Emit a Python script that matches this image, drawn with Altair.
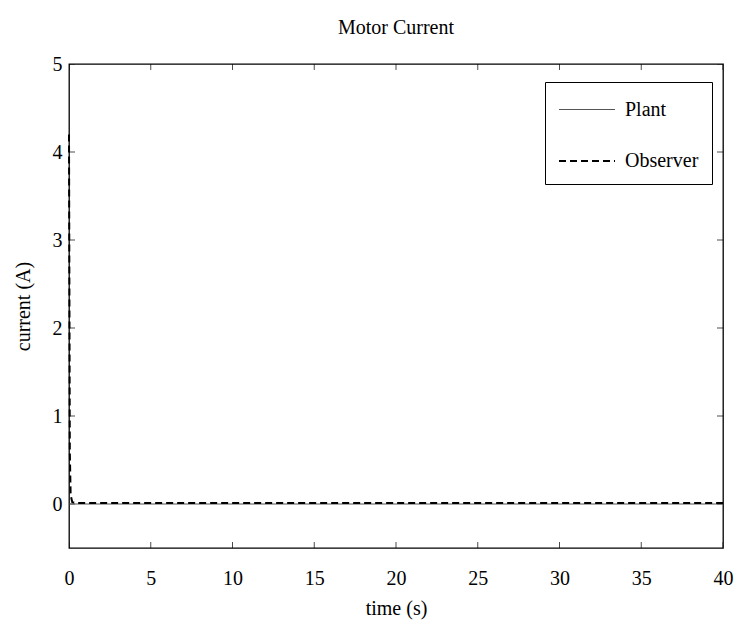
import altair as alt
import pandas as pd

# Simulated motor current: plant vs. observer estimate
time_s = [0.0, 0.05, 0.1, 0.2, 0.5, 40.0]
plant_current = [0.0, 0.0, 0.0, 0.0, 0.0, 0.0]
observer_current = [4.2, 0.6, 0.1, 0.02, 0.01, 0.01]

x_ticks = [0, 5, 10, 15, 20, 25, 30, 35, 40]
y_ticks = [0, 1, 2, 3, 4, 5]
x_domain = [0, 40]
y_domain = [-0.5, 5]

series_names = ["Plant", "Observer"]
series_colors = ["#555555", "#000000"]
series_dashes = [[1, 0], [7, 4]]
series_widths = [1, 2]

FONT = "Liberation Serif"

rows = []
for t, p, o in zip(time_s, plant_current, observer_current):
    rows.append({"t": t, "current": p, "series": "Plant"})
    rows.append({"t": t, "current": o, "series": "Observer"})
df = pd.DataFrame(rows)

x_scale = alt.Scale(domain=x_domain, nice=False, zero=False)
y_scale = alt.Scale(domain=y_domain, nice=False, zero=False)

x_axis = alt.Axis(values=x_ticks, format="d", title="time (s)", grid=False, ticks=False,
                  domain=False, tickSize=0, labelPadding=20, titlePadding=10,
                  labelFont=FONT, labelFontSize=20, labelColor="black",
                  titleFont=FONT, titleFontSize=20, titleFontWeight="normal",
                  titleColor="black", labelFlush=False)
y_axis = alt.Axis(values=y_ticks, format="d", title="current (A)", grid=False, ticks=False,
                  domain=False, tickSize=0, labelPadding=7, titlePadding=19,
                  labelFont=FONT, labelFontSize=20, labelColor="black",
                  titleFont=FONT, titleFontSize=20, titleFontWeight="normal",
                  titleColor="black", labelFlush=False)

# Line-segment legend symbol (custom path spans -2..2, so length = 2*sqrt(size))
legend = alt.Legend(title=None, orient="none", legendX=476, legendY=18,
                    strokeColor="black", fillColor="white", padding=13,
                    symbolType="M-2,0H2", symbolSize=784, symbolStrokeWidth=2,
                    symbolOffset=14, labelOffset=23, rowPadding=26,
                    labelFont=FONT, labelFontSize=20, labelColor="black")

enc = dict(
    x=alt.X("t:Q", scale=x_scale, axis=x_axis),
    y=alt.Y("current:Q", scale=y_scale, axis=y_axis),
    color=alt.Color("series:N", scale=alt.Scale(domain=series_names, range=series_colors), legend=legend),
    strokeDash=alt.StrokeDash("series:N", scale=alt.Scale(domain=series_names, range=series_dashes), legend=legend),
    strokeWidth=alt.StrokeWidth("series:N", scale=alt.Scale(domain=series_names, range=series_widths), legend=legend),
)

plant_line = alt.Chart(df).transform_filter(alt.datum.series == "Plant").mark_line().encode(**enc)
observer_line = alt.Chart(df).transform_filter(alt.datum.series == "Observer").mark_line().encode(**enc)

# Inward-pointing tick marks on all four sides of the box
xt = pd.DataFrame({"t": x_ticks})
yt = pd.DataFrame({"current": y_ticks})
tick_style = dict(color="black", thickness=1, size=12, clip=True)
bottom_ticks = alt.Chart(xt).mark_tick(orient="vertical", **tick_style).encode(
    x=alt.X("t:Q", scale=x_scale), y=alt.datum(y_domain[0]))
top_ticks = alt.Chart(xt).mark_tick(orient="vertical", **tick_style).encode(
    x=alt.X("t:Q", scale=x_scale), y=alt.datum(y_domain[1]))
left_ticks = alt.Chart(yt).mark_tick(orient="horizontal", **tick_style).encode(
    y=alt.Y("current:Q", scale=y_scale), x=alt.datum(x_domain[0]))
right_ticks = alt.Chart(yt).mark_tick(orient="horizontal", **tick_style).encode(
    y=alt.Y("current:Q", scale=y_scale), x=alt.datum(x_domain[1]))

chart = alt.layer(
    bottom_ticks, top_ticks, left_ticks, right_ticks, plant_line, observer_line
).properties(
    width=654,
    height=484,
    background="white",
    title=alt.TitleParams("Motor Current", font=FONT, fontSize=20,
                          fontWeight="normal", color="black", anchor="middle", offset=16),
    autosize=alt.AutoSizeParams(type="none"),
    padding={"left": 69, "top": 64, "right": 16, "bottom": 73},
).configure_view(
    stroke="black", strokeWidth=1.3
)

chart.save("out.html", embed_options={"renderer": "svg", "actions": False})
